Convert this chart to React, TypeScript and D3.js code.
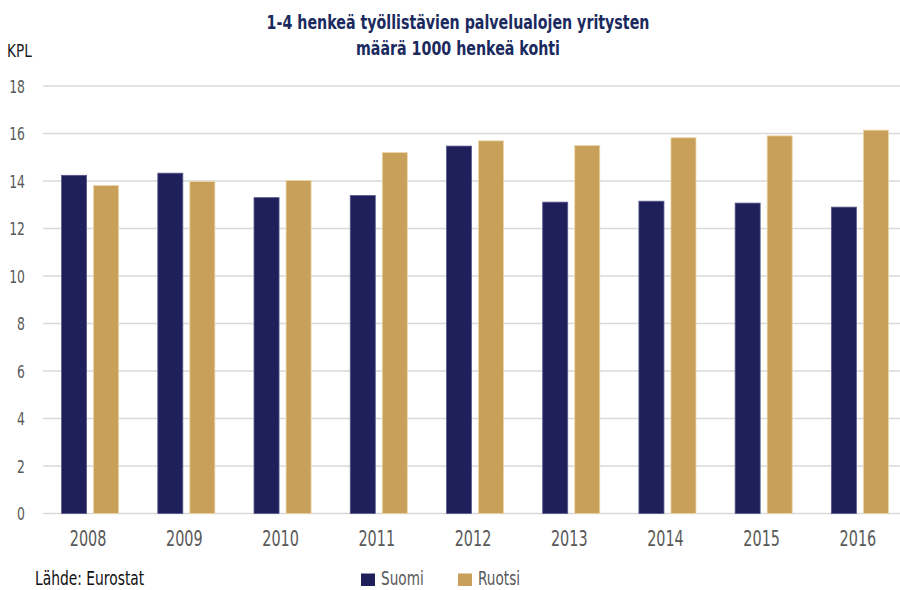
import { useEffect, useRef } from 'react';
import * as d3 from 'd3';

const years = ['2008', '2009', '2010', '2011', '2012', '2013', '2014', '2015', '2016'];
const seriesNames = ['Suomi', 'Ruotsi'];
const suomi = [14.24, 14.33, 13.3, 13.39, 15.47, 13.11, 13.15, 13.07, 12.9];
const ruotsi = [13.81, 13.98, 14.02, 15.2, 15.69, 15.49, 15.82, 15.9, 16.14];
const yTicks = [0, 2, 4, 6, 8, 10, 12, 14, 16, 18];
const titleLines = ['1-4 henkeä työllistävien palvelualojen yritysten', 'määrä 1000 henkeä kohti'];

const colors = { Suomi: '#1f1f5b', Ruotsi: '#c9a05a' };
const strokes = { Suomi: '#5a5a8c', Ruotsi: '#ead6a8' };
const font = '"DejaVu Sans", sans-serif';
const narrow = 0.67; // condensed look, no narrow font installed

const App = () => {
  const ref = useRef<SVGSVGElement>(null);

  useEffect(() => {
    const svg = d3.select(ref.current);
    svg.selectAll('*').remove();

    const width = 900;
    const height = 590;

    const y = d3.scaleLinear().domain([0, 18]).range([513.5, 86]);
    const x0 = d3.scaleBand().domain(years).range([42, 908]).paddingInner(0.407).paddingOuter(0.2035);
    const x1 = d3.scaleBand().domain(seriesNames).range([0, x0.bandwidth()]).paddingInner(0.21875);

    // title
    svg
      .append('g')
      .selectAll('text')
      .data(titleLines)
      .enter()
      .append('text')
      .attr('transform', (d, i) => `translate(458,${28.5 + i * 26.5}) scale(0.73,1)`)
      .attr('text-anchor', 'middle')
      .style('font-family', font)
      .style('font-weight', 'bold')
      .style('font-size', '19.5px')
      .style('fill', '#1b2a5e')
      .text((d) => d);

    svg
      .append('text')
      .attr('transform', 'translate(7,56.5) scale(0.76,1)')
      .style('font-family', font)
      .style('font-size', '18px')
      .style('fill', '#1a1a1a')
      .text('KPL');

    // gridlines
    svg
      .append('g')
      .selectAll('line')
      .data(yTicks)
      .enter()
      .append('line')
      .attr('x1', 43)
      .attr('x2', width)
      .attr('y1', (d) => y(d))
      .attr('y2', (d) => y(d))
      .attr('stroke', '#d9d9d9')
      .attr('stroke-width', 1.5);

    // y labels
    svg
      .append('g')
      .selectAll('text')
      .data(yTicks)
      .enter()
      .append('text')
      .attr('transform', (d) => `translate(25,${y(d) + 6.5}) scale(${narrow},1)`)
      .attr('text-anchor', 'end')
      .style('font-family', font)
      .style('font-size', '18.5px')
      .style('fill', '#595959')
      .text((d) => d);

    // bars
    const rows = years.map((yr, i) => ({ year: yr, values: [suomi[i], ruotsi[i]] }));
    const groups = svg
      .append('g')
      .selectAll('g')
      .data(rows)
      .enter()
      .append('g')
      .attr('transform', (d) => `translate(${x0(d.year)},0)`);

    groups
      .selectAll('rect')
      .data((d) => d.values.map((v, i) => ({ key: seriesNames[i], value: v })))
      .enter()
      .append('rect')
      .attr('x', (d) => x1(d.key)!)
      .attr('y', (d) => y(d.value))
      .attr('width', x1.bandwidth())
      .attr('height', (d) => y(0) - y(d.value))
      .attr('fill', (d) => colors[d.key as 'Suomi' | 'Ruotsi'])
      .attr('stroke', (d) => strokes[d.key as 'Suomi' | 'Ruotsi'])
      .attr('stroke-width', 0.8);

    // x labels
    svg
      .append('g')
      .selectAll('text')
      .data(years)
      .enter()
      .append('text')
      .attr('transform', (d) => `translate(${x0(d)! + x0.bandwidth() / 2 - 2},546) scale(${narrow},1)`)
      .attr('text-anchor', 'middle')
      .style('font-family', font)
      .style('font-size', '21.5px')
      .style('fill', '#595959')
      .text((d) => d);

    // source
    svg
      .append('text')
      .attr('transform', 'translate(35,585) scale(0.71,1)')
      .style('font-family', font)
      .style('font-size', '19.5px')
      .style('fill', '#111')
      .text('Lähde: Eurostat');

    // legend
    const legend = svg
      .append('g')
      .selectAll('g')
      .data(seriesNames)
      .enter()
      .append('g')
      .attr('transform', (d, i) => `translate(${361 + i * 97},573.5)`);

    legend
      .append('rect')
      .attr('width', 14)
      .attr('height', 12.5)
      .attr('fill', (d) => colors[d as 'Suomi' | 'Ruotsi']);

    legend
      .append('text')
      .attr('transform', 'translate(20,11.5) scale(0.7,1)')
      .style('font-family', font)
      .style('font-size', '19.5px')
      .style('fill', '#595959')
      .text((d) => d);

    svg.attr('width', width).attr('height', height);
  }, []);

  return <svg ref={ref} width={900} height={590} style={{ position: 'absolute', left: 0, top: 0 }} />;
};

export default App;
